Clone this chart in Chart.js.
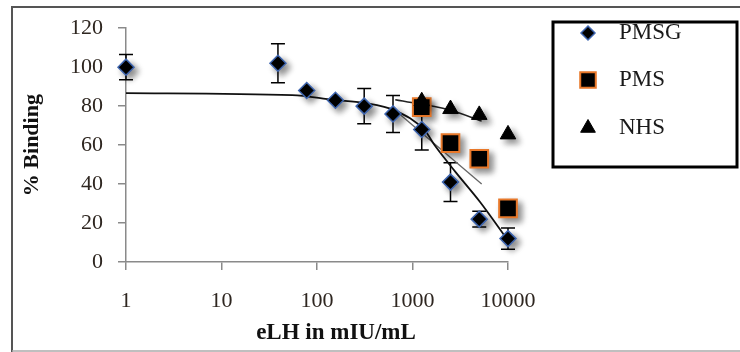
<!DOCTYPE html>
<html>
<head>
<meta charset="utf-8">
<script src="https://cdn.jsdelivr.net/npm/chart.js@4.4.0/dist/chart.umd.min.js"></script>
<style>
  html, body { margin: 0; padding: 0; background: #fff; }
  #wrap { width: 740px; height: 352px; position: relative; }
</style>
</head>
<body>
<div id="wrap"><canvas id="bindingChart"></canvas></div>
<script>
const xTickValues = [1, 10, 100, 1000, 10000];
const xTickLabels = ['1', '10', '100', '1000', '10000'];
const yTickValues = [0, 20, 40, 60, 80, 100, 120];

const pmsgX = [1, 39, 78, 156, 312, 625, 1250, 2500, 5000, 10000];
const pmsgY = [100, 102, 88, 83, 80, 76, 68, 41, 22, 12];
const pmsgErr = [6.5, 10, 0, 0, 9, 9.5, 10.5, 10, 4, 5.5];

const pmsX = [1250, 2500, 5000, 10000];
const pmsY = [79.5, 61, 53, 27.5];

const nhsX = [1250, 2500, 5000, 10000];
const nhsY = [82.5, 78.5, 75.5, 65.5];

// trend lines
const pmsgTrendX = [1, 55, 150, 310, 660, 1350, 1700, 2800, 5100, 10000];
const pmsgTrendY = [86.7, 85.6, 83.2, 81.7, 77.7, 67.4, 60, 46.4, 30.8, 11];
const pmsTrendX = [705, 5300];
const pmsTrendY = [76.6, 40];
const nhsTrendX = [660, 2450, 5300];
const nhsTrendY = [83.3, 78, 72.3];

const serif = 'Liberation Serif, Times New Roman, serif';
const labelColor = '#2e2620';
const axisColor = '#8a8a8a';

function pts(xs, ys) {
    return xs.map(function (x, i) { return { x: x, y: ys[i] }; });
}

const shadowed = ['PMSG', 'PMS', 'NHS'];

const extras = {
    id: 'extras',
    beforeDatasetsDraw(chart) {
        // error bars for PMSG
        const c = chart.ctx, xs = chart.scales.x, ys = chart.scales.y;
        c.save();
        c.strokeStyle = '#000';
        c.lineWidth = 1.5;
        pmsgX.forEach(function (x, i) {
            if (!pmsgErr[i]) return;
            const px = xs.getPixelForValue(x);
            const top = ys.getPixelForValue(pmsgY[i] + pmsgErr[i]);
            const bot = ys.getPixelForValue(pmsgY[i] - pmsgErr[i]);
            c.beginPath();
            c.moveTo(px, top); c.lineTo(px, bot);
            c.moveTo(px - 7, top); c.lineTo(px + 7, top);
            c.moveTo(px - 7, bot); c.lineTo(px + 7, bot);
            c.stroke();
        });
        c.restore();
    },
    beforeDatasetDraw(chart, args) {
        const ds = chart.data.datasets[args.index];
        if (shadowed.indexOf(ds.label) < 0) return;
        const c = chart.ctx;
        c.save();
        c.shadowColor = 'rgba(0,0,0,0.45)';
        c.shadowBlur = 6;
        c.shadowOffsetX = 4;
        c.shadowOffsetY = 4;
    },
    afterDatasetDraw(chart, args) {
        const ds = chart.data.datasets[args.index];
        if (shadowed.indexOf(ds.label) < 0) return;
        chart.ctx.restore();
    },
    afterDraw(chart) {
        const c = chart.ctx, area = chart.chartArea;
        c.save();
        // outer frame
        c.strokeStyle = '#555';
        c.lineWidth = 2;
        c.beginPath();
        c.moveTo(12, 352); c.lineTo(12, 7); c.lineTo(740, 7);
        c.stroke();
        c.strokeStyle = '#aaa';
        c.lineWidth = 1.5;
        c.beginPath();
        c.moveTo(12, 351); c.lineTo(740, 351);
        c.stroke();

        // x axis title
        c.fillStyle = '#111';
        c.font = 'bold 23px ' + serif;
        c.textAlign = 'center';
        c.textBaseline = 'middle';
        c.fillText('eLH in mIU/mL', (area.left + area.right) / 2 + 19, 333);

        // legend box
        c.strokeStyle = '#000';
        c.lineWidth = 3;
        c.strokeRect(553, 22, 184, 145);
        const items = [
            { text: 'PMSG', y: 33, style: 'rectRot', r: 7, fill: '#000', stroke: '#3f66b0', bw: 1.5 },
            { text: 'PMS', y: 80, style: 'rect', r: 11, fill: '#000', stroke: '#e8782a', bw: 2 },
            { text: 'NHS', y: 128, style: 'triangle', r: 8.5, fill: '#000', stroke: '#000', bw: 1 }
        ];
        items.forEach(function (it) {
            c.fillStyle = it.fill;
            c.strokeStyle = it.stroke;
            c.lineWidth = it.bw;
            Chart.helpers.drawPoint(c, { pointStyle: it.style, radius: it.r, rotation: 0, borderWidth: it.bw }, 588, it.y);
            c.fillStyle = '#1a1a1a';
            c.font = '23px ' + serif;
            c.textAlign = 'left';
            c.textBaseline = 'middle';
            c.fillText(it.text, 619, it.y);
        });
        c.restore();
    }
};

const ctx = document.getElementById('bindingChart').getContext('2d');
new Chart(ctx, {
    type: 'scatter',
    data: {
        datasets: [
            {
                label: 'PMSG', data: pts(pmsgX, pmsgY), clip: false,
                pointStyle: 'rectRot', pointRadius: 8,
                backgroundColor: '#000', borderColor: '#3f66b0', borderWidth: 1.5
            },
            {
                label: 'NHS', data: pts(nhsX, nhsY), clip: false,
                pointStyle: 'triangle', pointRadius: 9,
                backgroundColor: '#000', borderColor: '#000', borderWidth: 1
            },
            {
                label: 'PMS', data: pts(pmsX, pmsY), clip: false,
                pointStyle: 'rect', pointRadius: 12.5,
                backgroundColor: '#000', borderColor: '#e8782a', borderWidth: 2
            },
            {
                label: 'PMSG trend', data: pts(pmsgTrendX, pmsgTrendY), clip: false,
                showLine: true, pointRadius: 0, borderColor: '#111', borderWidth: 1.8,
                cubicInterpolationMode: 'monotone'
            },
            {
                label: 'PMS trend', data: pts(pmsTrendX, pmsTrendY), clip: false,
                showLine: true, pointRadius: 0, borderColor: '#666', borderWidth: 1.3
            },
            {
                label: 'NHS trend', data: pts(nhsTrendX, nhsTrendY), clip: false,
                showLine: true, pointRadius: 0, borderColor: '#222', borderWidth: 1.5,
                cubicInterpolationMode: 'monotone'
            }
        ]
    },
    options: {
        responsive: true,
        maintainAspectRatio: false,
        animation: false,
        layout: { padding: { left: 0, top: 24, right: 232, bottom: 0 } },
        plugins: {
            legend: { display: false },
            tooltip: { enabled: false }
        },
        scales: {
            x: {
                type: 'logarithmic',
                min: 1,
                max: 10000,
                border: { color: axisColor, width: 1.5 },
                grid: { drawOnChartArea: false, drawTicks: true, tickLength: 8, color: axisColor, lineWidth: 1.5 },
                afterBuildTicks: function (scale) {
                    scale.ticks = xTickValues.map(function (v) { return { value: v }; });
                },
                afterFit: function (scale) { scale.height = 90; },
                ticks: {
                    autoSkip: false,
                    maxRotation: 0,
                    padding: 18,
                    color: labelColor,
                    font: { family: serif, size: 22 },
                    callback: function (v) {
                        const i = xTickValues.indexOf(v);
                        return i >= 0 ? xTickLabels[i] : '';
                    }
                }
            },
            y: {
                min: 0,
                max: 120,
                border: { color: axisColor, width: 1.5 },
                grid: { drawOnChartArea: false, drawTicks: true, tickLength: 8, color: axisColor, lineWidth: 1.5 },
                afterBuildTicks: function (scale) {
                    scale.ticks = yTickValues.map(function (v) { return { value: v }; });
                },
                afterFit: function (scale) { scale.width = 126; },
                ticks: {
                    padding: 15,
                    color: labelColor,
                    font: { family: serif, size: 22 }
                },
                title: {
                    display: true,
                    text: '% Binding',
                    color: '#111',
                    font: { family: serif, size: 22, weight: 'bold' },
                    padding: { top: 19, bottom: 0 }
                }
            }
        }
    },
    plugins: [extras]
});
</script>
</body>
</html>
